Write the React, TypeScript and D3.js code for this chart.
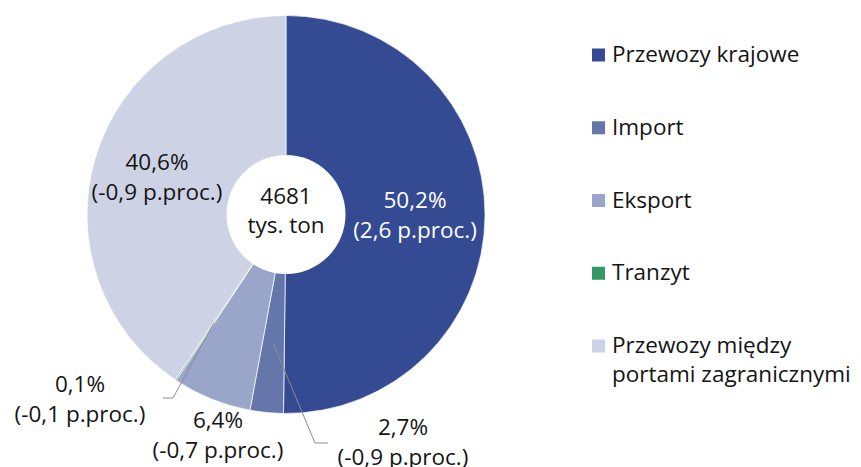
import { useRef, useEffect } from "react";
import * as d3 from "d3";

const categories = [
  "Przewozy krajowe",
  "Import",
  "Eksport",
  "Tranzyt",
  "Przewozy między portami zagranicznymi",
];
const shares = [50.2, 2.7, 6.4, 0.1, 40.6];
const changes = ["2,6", "-0,9", "-0,7", "-0,1", "-0,9"];
const colors = ["#344a93", "#6577aa", "#9aa6c9", "#339966", "#cdd2e5"];
const totalLabel = ["4681", "tys. ton"];
const legendLines = [
  ["Przewozy krajowe"],
  ["Import"],
  ["Eksport"],
  ["Tranzyt"],
  ["Przewozy między", "portami zagranicznymi"],
];

// label placement (text centre x, first baseline y), leader elbow if outside
const labelLayout = [
  { x: 415, y: 208, fill: "#ffffff", elbow: null },
  { x: 403, y: 435, fill: "#141414", elbow: [[315, 443], [328, 443]] },
  { x: 218, y: 428, fill: "#141414", elbow: null },
  { x: 80, y: 392, fill: "#141414", elbow: [[173, 398], [163, 398]] },
  { x: 157, y: 170, fill: "#141414", elbow: null },
];

const fmt = (v: number) => v.toFixed(1).replace(".", ",") + "%";

export default function App() {
  const ref = useRef<SVGSVGElement>(null);

  useEffect(() => {
    const svg = d3.select(ref.current);
    svg.selectAll("*").remove();
    const font = "'Open Sans', 'Noto Sans', sans-serif";
    const fs = 22.5;
    const cx = 286;
    const cy = 214.5;
    const outer = 199;
    const inner = 59.5;

    const data = categories.map((c, i) => ({ c, v: shares[i], i }));
    const pie = d3
      .pie<{ c: string; v: number; i: number }>()
      .sort(null)
      .value((d) => d.v);
    const arcs = pie(data);
    const arc = d3
      .arc<d3.PieArcDatum<{ c: string; v: number; i: number }>>()
      .innerRadius(0)
      .outerRadius(outer);
    const pointArc = d3
      .arc<d3.PieArcDatum<{ c: string; v: number; i: number }>>()
      .innerRadius(130)
      .outerRadius(130);

    const g = svg.append("g").attr("transform", `translate(${cx},${cy})`);
    g.selectAll("path.slice")
      .data(arcs)
      .join("path")
      .attr("class", "slice")
      .attr("d", arc)
      .attr("fill", (d) => colors[d.data.i])
      .attr("stroke", "#ffffff")
      .attr("stroke-width", 0.7);

    g.append("circle").attr("r", inner).attr("fill", "#ffffff");

    g.append("text")
      .attr("text-anchor", "middle")
      .attr("font-family", font)
      .attr("font-size", fs)
      .attr("fill", "#141414")
      .selectAll("tspan")
      .data(totalLabel)
      .join("tspan")
      .attr("x", 0)
      .attr("y", (_, k) => -10.5 + k * 29)
      .text((d) => d);

    // leader lines
    arcs.forEach((a, i) => {
      const L = labelLayout[i];
      if (!L.elbow) return;
      const [px, py] = pointArc.centroid(a);
      const pts: [number, number][] = [
        [px + cx, py + cy],
        ...(L.elbow as [number, number][]),
      ];
      svg
        .append("path")
        .attr("d", d3.line()(pts))
        .attr("fill", "none")
        .attr("stroke", "#8c8c8c")
        .attr("stroke-width", 1);
    });

    // slice labels
    arcs.forEach((a, i) => {
      const L = labelLayout[i];
      svg
        .append("text")
        .attr("text-anchor", "middle")
        .attr("font-family", font)
        .attr("font-size", fs)
        .attr("fill", L.fill)
        .selectAll("tspan")
        .data([fmt(a.data.v), `(${changes[i]} p.proc.)`])
        .join("tspan")
        .attr("x", L.x)
        .attr("y", (_, k) => L.y + k * 30)
        .text((d) => d);
    });

    // legend
    const rowY = d3
      .scalePoint<number>()
      .domain(d3.range(categories.length))
      .range([55, 346]);
    const legend = svg.append("g");
    legendLines.forEach((lines, i) => {
      const y = rowY(i) ?? 0;
      legend
        .append("rect")
        .attr("x", 592)
        .attr("y", y - 6.5)
        .attr("width", 13)
        .attr("height", 13)
        .attr("fill", colors[i]);
      legend
        .append("text")
        .attr("font-family", font)
        .attr("font-size", fs)
        .attr("fill", "#141414")
        .selectAll("tspan")
        .data(lines)
        .join("tspan")
        .attr("x", 612)
        .attr("y", (_, k) => y + 7 + k * 29)
        .text((d) => d);
    });
  }, []);

  return (
    <svg
      ref={ref}
      width={861}
      height={467}
      style={{ position: "absolute", left: 0, top: 0, background: "#ffffff" }}
    />
  );
}
